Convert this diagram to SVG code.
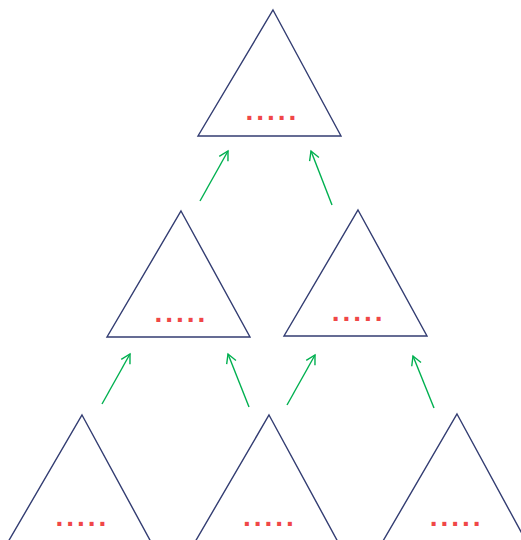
<svg xmlns="http://www.w3.org/2000/svg" width="521" height="540" viewBox="0 0 521 540">
<style>
.tri{fill:none;stroke:#333d72;stroke-width:1.4;stroke-linejoin:miter}
.dots{font-family:"Liberation Sans",Arial,sans-serif;font-weight:bold;font-size:28px;fill:#f04747;letter-spacing:2.97px}
.arr{fill:none;stroke:#00b050;stroke-width:1.4;marker-end:url(#ah)}
</style>
<defs>
<marker id="ah" markerUnits="userSpaceOnUse" markerWidth="20" markerHeight="20" refX="0" refY="0" viewBox="-10 -10 20 20" orient="auto">
<path d="M-9,-5 L0,0 L-9,5" fill="none" stroke="#00b050" stroke-width="1.4"/>
</marker>
</defs>
<rect width="521" height="540" fill="#ffffff"/>
<g id="node-top">
<path class="tri" d="M273,10 L341,136 L198,136 Z"/>
<text class="dots" x="245.4" y="120">.....</text>
</g>
<g id="node-mid-left">
<path class="tri" d="M181,211 L250,337 L107,337 Z"/>
<text class="dots" x="154.4" y="322">.....</text>
</g>
<g id="node-mid-right">
<path class="tri" d="M358,210 L427,336 L284,336 Z"/>
<text class="dots" x="331.8" y="321.3">.....</text>
</g>
<g id="node-bot-left">
<path class="tri" d="M82,415 L151,542 L8,542 Z"/>
<text class="dots" x="55.4" y="526.3">.....</text>
</g>
<g id="node-bot-mid">
<path class="tri" d="M269,415 L338,542 L195,542 Z"/>
<text class="dots" x="243.1" y="526.3">.....</text>
</g>
<g id="node-bot-right">
<path class="tri" d="M457,414 L526,541 L383,541 Z"/>
<text class="dots" x="429.8" y="526.3">.....</text>
</g>
<g id="connectors">
<line class="arr" x1="200" y1="201" x2="228" y2="151"/>
<line class="arr" x1="332" y1="205" x2="311" y2="151"/>
<line class="arr" x1="102" y1="404" x2="130" y2="354"/>
<line class="arr" x1="249" y1="407" x2="228" y2="354"/>
<line class="arr" x1="287" y1="405" x2="315" y2="355"/>
<line class="arr" x1="434" y1="408" x2="413" y2="356"/>
</g>
</svg>
